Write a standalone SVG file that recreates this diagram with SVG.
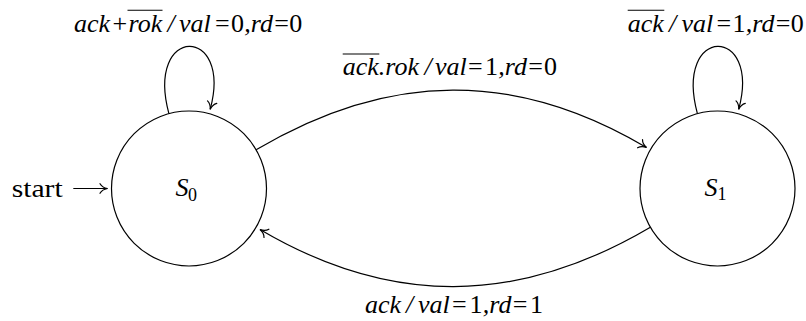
<svg xmlns="http://www.w3.org/2000/svg" width="806" height="321" viewBox="0 0 806 321">
  <style>
    .t { font-family: "Liberation Serif", "Times New Roman", serif; font-size: 26px; fill: #000; }
    .i { font-style: italic; }
    .sub { font-size: 18px; }
    .state { fill: #fff; stroke: #000; stroke-width: 1.2; }
    .edge { fill: none; stroke: #000; stroke-width: 1.2; marker-end: url(#arr); }
    .ovl { stroke: #000; stroke-width: 1.1; }
  </style>
  <defs>
    <marker id="arr" markerUnits="userSpaceOnUse" markerWidth="14" markerHeight="14" viewBox="-9 -7 11 14" refX="0" refY="0" orient="auto">
      <path d="M-7.5,-4.8 C-6,-2.2 -3.2,-0.6 0,0 C-3.2,0.6 -6,2.2 -7.5,4.8" fill="none" stroke="#000" stroke-width="1.2" stroke-linecap="round"/>
    </marker>
  </defs>

  <g id="connectors">
    <path id="edge-start" class="edge" d="M73.3,188.5 L107.5,188.5"/>
    <path id="edge-S0-S0" class="edge" d="M168.9,113.6 C145,24.6 233,24.6 210.2,109.3"/>
    <path id="edge-S1-S1" class="edge" d="M697.4,113.6 C673.5,24.6 761.5,24.6 738.7,109.3"/>
    <path id="edge-S0-S1" class="edge" d="M256.1,149.75 C389.8,70.5 516.7,70.5 646.5,147.5"/>
    <path id="edge-S1-S0" class="edge" d="M650.4,227.25 C516.7,306 389.8,306 260,229.5"/>

    <g id="label-start">
      <text class="t" x="11.7" y="196.5" textLength="51" lengthAdjust="spacingAndGlyphs">start</text>
    </g>

    <g id="label-S0-S0">
      <text class="t" y="32">
        <tspan class="i" x="74">ack</tspan><tspan x="112.5">+</tspan><tspan class="i" x="128.5">rok</tspan><tspan class="i" x="167.5">/</tspan><tspan class="i" x="179">val</tspan><tspan x="215">=</tspan><tspan x="231">0</tspan><tspan class="i" x="244.3">,rd</tspan><tspan x="274.2">=</tspan><tspan x="289.2">0</tspan>
      </text>
      <line class="ovl" x1="127.5" y1="10.3" x2="162.5" y2="10.3"/>
    </g>

    <g id="label-S1-S1">
      <text class="t" y="32">
        <tspan class="i" x="627.7">ack</tspan><tspan class="i" x="669">/</tspan><tspan class="i" x="681.5">val</tspan><tspan x="716.5">=</tspan><tspan x="732.5">1</tspan><tspan class="i" x="745.8">,rd</tspan><tspan x="775.7">=</tspan><tspan x="790.7">0</tspan>
      </text>
      <line class="ovl" x1="627.7" y1="10.3" x2="664.3" y2="10.3"/>
    </g>

    <g id="label-S0-S1">
      <text class="t" y="75">
        <tspan class="i" x="342.7">ack.rok</tspan><tspan class="i" x="424.5">/</tspan><tspan class="i" x="435">val</tspan><tspan x="468">=</tspan><tspan x="485">1</tspan><tspan class="i" x="498.3">,rd</tspan><tspan x="528.2">=</tspan><tspan x="544">0</tspan>
      </text>
      <line class="ovl" x1="342.7" y1="54" x2="379.3" y2="54"/>
    </g>

    <g id="label-S1-S0">
      <text class="t" y="313">
        <tspan class="i" x="365">ack</tspan><tspan class="i" x="406">/</tspan><tspan class="i" x="418">val</tspan><tspan x="452">=</tspan><tspan x="469.5">1</tspan><tspan class="i" x="482.8">,rd</tspan><tspan x="512.7">=</tspan><tspan x="530">1</tspan>
      </text>
    </g>
  </g>

  <g id="node-S0">
    <circle class="state" cx="189" cy="188.5" r="77.5"/>
    <text class="t" y="196"><tspan class="i" x="175.5">S</tspan><tspan class="sub" x="188" y="200.5">0</tspan></text>
  </g>

  <g id="node-S1">
    <circle class="state" cx="717.5" cy="188.5" r="77.5"/>
    <text class="t" y="195.5"><tspan class="i" x="704.5">S</tspan><tspan class="sub" x="717.5" y="200">1</tspan></text>
  </g>
</svg>
